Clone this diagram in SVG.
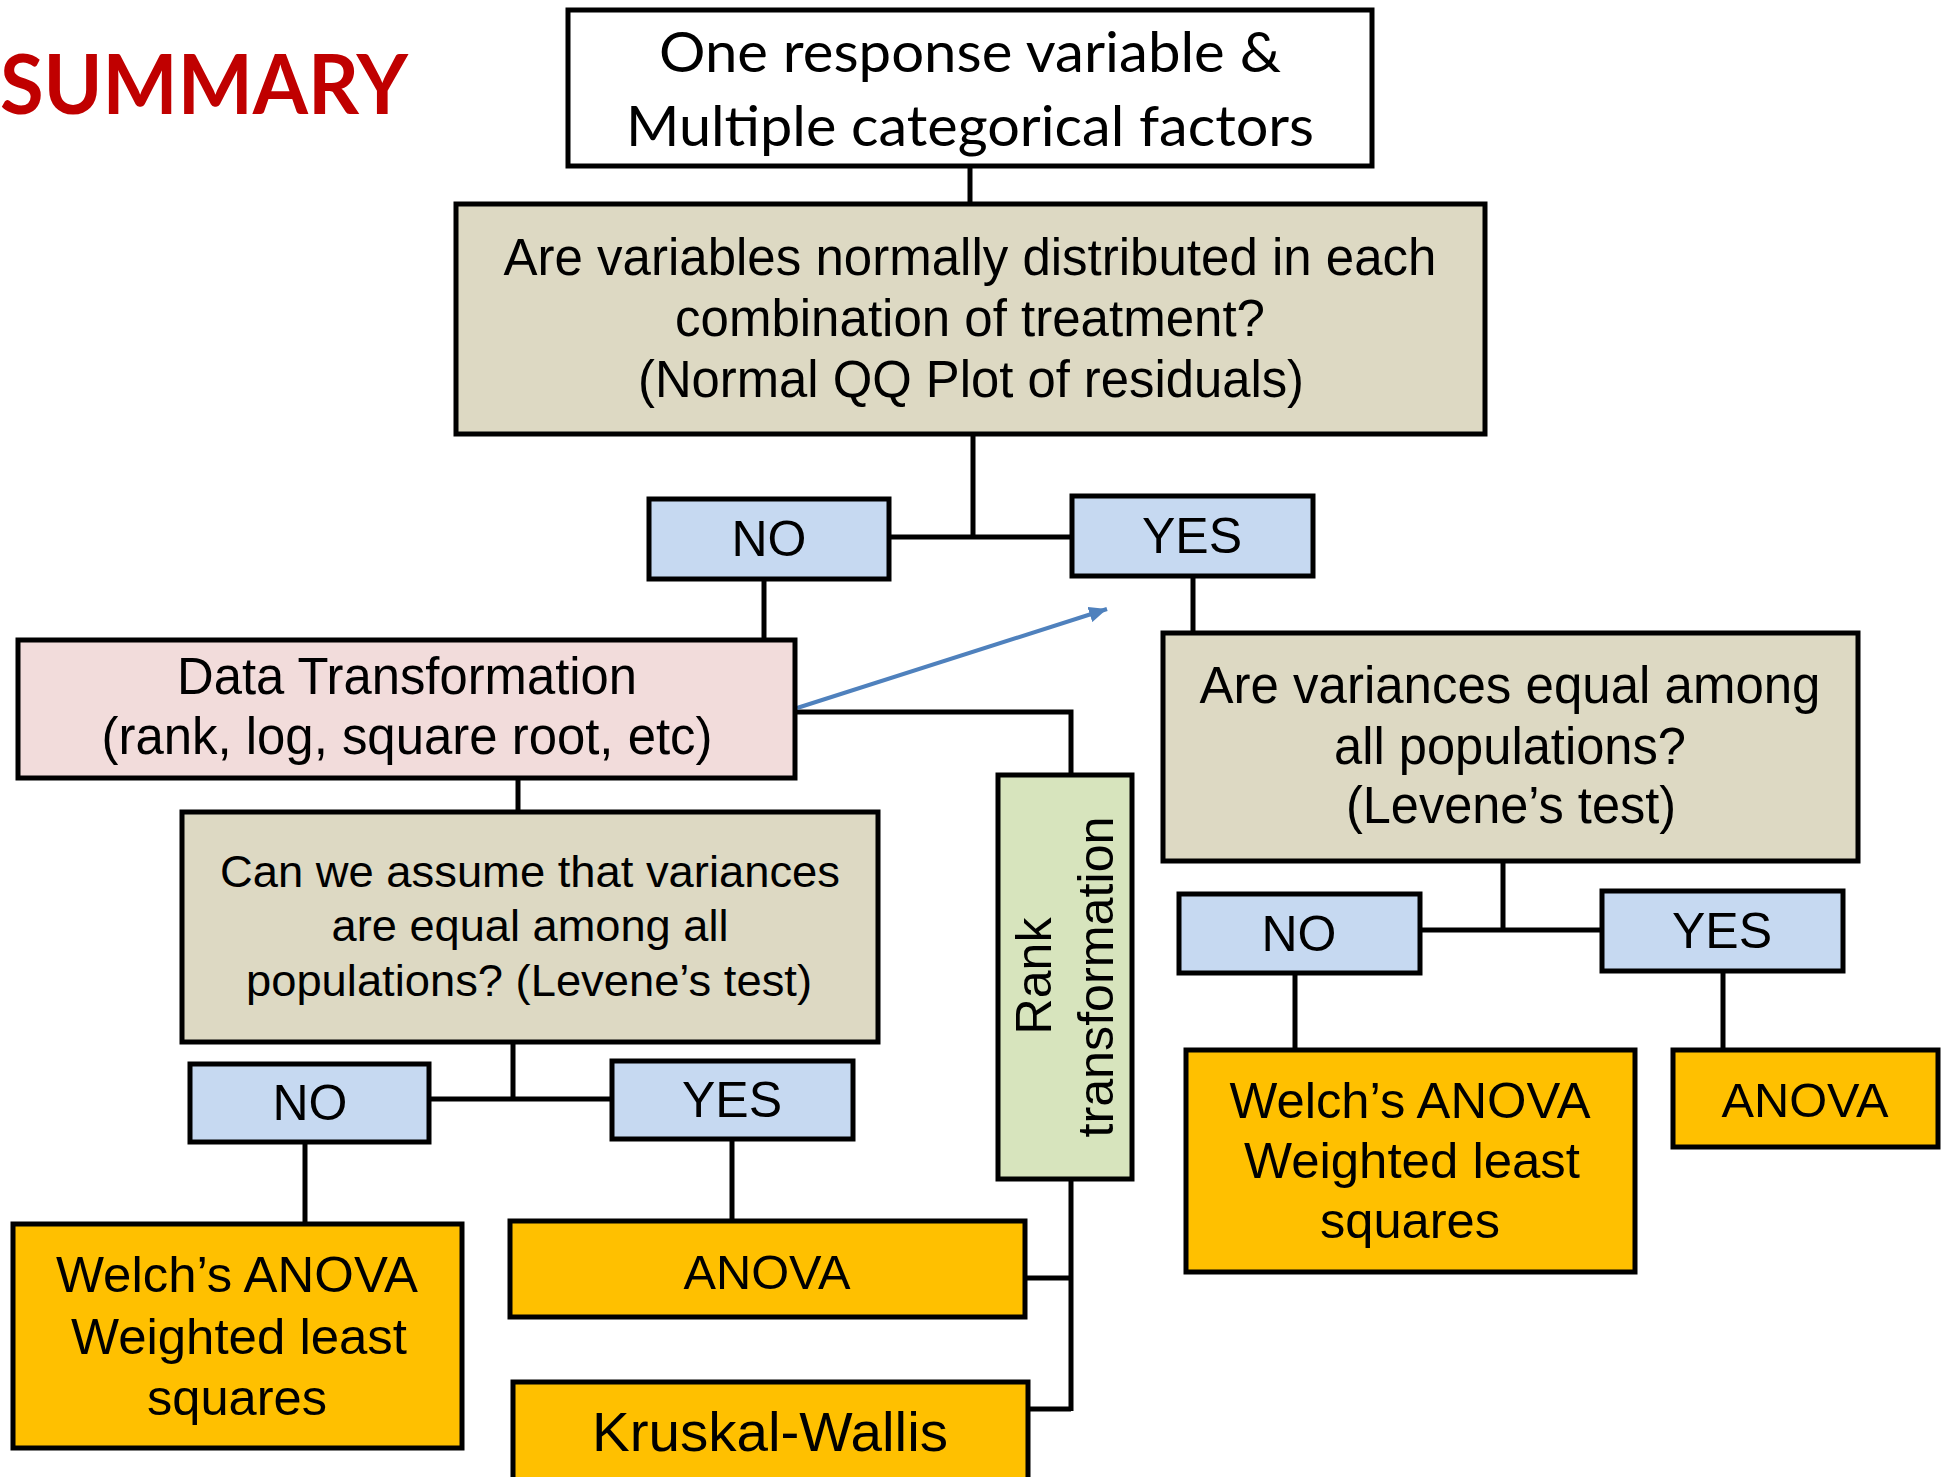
<svg xmlns="http://www.w3.org/2000/svg" width="1950" height="1477" viewBox="0 0 1950 1477">
<style>
.box{stroke:#000;stroke-width:5;stroke-linejoin:miter}
.white{fill:#fff}
.gray{fill:#DDD9C3}
.blue{fill:#C6D9F1}
.pink{fill:#F2DCDB}
.green{fill:#D7E4BD}
.orange{fill:#FFC000}
.t{font-family:"Liberation Sans",Arial,sans-serif;fill:#000;text-anchor:middle}
.c{font-family:Lato,"Liberation Sans",sans-serif;fill:#000;text-anchor:middle}
.conn{fill:none;stroke:#000;stroke-width:5}
</style>
<defs>
<marker id="ah" markerUnits="userSpaceOnUse" markerWidth="20" markerHeight="16" refX="18" refY="8" orient="auto">
<path d="M0,0 L18,8 L0,16 Z" fill="#4F81BD"/>
</marker>
</defs>
<rect width="1950" height="1477" fill="#fff"/>
<text x="0" y="114" font-family="Lato,'Liberation Sans',sans-serif" font-weight="bold" font-size="82" fill="#C00000" textLength="408" lengthAdjust="spacingAndGlyphs">SUMMARY</text>

<g id="connectors">
<path class="conn" d="M970 168 V202"/>
<path class="conn" d="M973 436 V537 M891 537 H1070"/>
<path class="conn" d="M764 581 V638"/>
<path class="conn" d="M1193 578 V631"/>
<path class="conn" d="M797 712 H1071 V773"/>
<path class="conn" d="M518 780 V810"/>
<path class="conn" d="M513 1044 V1099 M431 1099 H610"/>
<path class="conn" d="M305 1144 V1222"/>
<path class="conn" d="M732 1141 V1219"/>
<path class="conn" d="M1071 1181 V1411 M1027 1278 H1071 M1030 1409 H1071"/>
<path class="conn" d="M1503 863 V930 M1422 930 H1600"/>
<path class="conn" d="M1295 975 V1048"/>
<path class="conn" d="M1723 973 V1048"/>
<line x1="797" y1="708" x2="1107" y2="609" stroke="#4F81BD" stroke-width="4" marker-end="url(#ah)"/>
</g>

<g id="start">
<rect class="box white" x="568" y="10" width="804" height="156"/>
<text class="c" x="970" y="72" font-size="56" textLength="622" lengthAdjust="spacingAndGlyphs">One response variable &amp;</text>
<text class="c" x="970" y="146" font-size="56" textLength="688" lengthAdjust="spacingAndGlyphs">Multiple categorical factors</text>
</g>

<g id="q-normal">
<rect class="box gray" x="456" y="204" width="1029" height="230"/>
<text class="t" x="970" y="275" font-size="51" textLength="933" lengthAdjust="spacingAndGlyphs">Are variables normally distributed in each</text>
<text class="t" x="970" y="336" font-size="51" textLength="590" lengthAdjust="spacingAndGlyphs">combination of treatment?</text>
<text class="t" x="971" y="397" font-size="51" textLength="666" lengthAdjust="spacingAndGlyphs">(Normal QQ Plot of residuals)</text>
</g>

<g id="no1">
<rect class="box blue" x="649" y="499" width="240" height="80"/>
<text class="t" x="769" y="556" font-size="50">NO</text>
</g>
<g id="yes1">
<rect class="box blue" x="1072" y="496" width="241" height="80"/>
<text class="t" x="1192" y="553" font-size="50">YES</text>
</g>

<g id="transform">
<rect class="box pink" x="18" y="640" width="777" height="138"/>
<text class="t" x="407" y="694" font-size="51" textLength="460" lengthAdjust="spacingAndGlyphs">Data Transformation</text>
<text class="t" x="407" y="754" font-size="51" textLength="611" lengthAdjust="spacingAndGlyphs">(rank, log, square root, etc)</text>
</g>

<g id="rank">
<rect class="box green" x="998" y="775" width="134" height="404"/>
<text class="t" font-size="50" transform="translate(1051,976) rotate(-90)" textLength="117" lengthAdjust="spacingAndGlyphs">Rank</text>
<text class="t" font-size="50" transform="translate(1113,977) rotate(-90)" textLength="321" lengthAdjust="spacingAndGlyphs">transformation</text>
</g>

<g id="q-var-left">
<rect class="box gray" x="182" y="812" width="696" height="230"/>
<text class="t" x="530" y="887" font-size="45" textLength="620" lengthAdjust="spacingAndGlyphs">Can we assume that variances</text>
<text class="t" x="530" y="941" font-size="45" textLength="397" lengthAdjust="spacingAndGlyphs">are equal among all</text>
<text class="t" x="529" y="996" font-size="45" textLength="566" lengthAdjust="spacingAndGlyphs">populations? (Levene’s test)</text>
</g>

<g id="no2">
<rect class="box blue" x="190" y="1064" width="239" height="78"/>
<text class="t" x="310" y="1120" font-size="50">NO</text>
</g>
<g id="yes2">
<rect class="box blue" x="612" y="1061" width="241" height="78"/>
<text class="t" x="732" y="1117" font-size="50">YES</text>
</g>

<g id="welch-left">
<rect class="box orange" x="13" y="1224" width="449" height="224"/>
<text class="t" x="237" y="1292" font-size="50" textLength="362" lengthAdjust="spacingAndGlyphs">Welch’s ANOVA</text>
<text class="t" x="239" y="1354" font-size="50" textLength="336" lengthAdjust="spacingAndGlyphs">Weighted least</text>
<text class="t" x="237" y="1415" font-size="50" textLength="180" lengthAdjust="spacingAndGlyphs">squares</text>
</g>

<g id="anova-left">
<rect class="box orange" x="510" y="1221" width="515" height="96"/>
<text class="t" x="767" y="1289" font-size="48" textLength="167" lengthAdjust="spacingAndGlyphs">ANOVA</text>
</g>

<g id="kruskal">
<rect class="box orange" x="513" y="1382" width="515" height="130"/>
<text class="t" x="770" y="1451" font-size="56" textLength="356" lengthAdjust="spacingAndGlyphs">Kruskal-Wallis</text>
</g>

<g id="q-var-right">
<rect class="box gray" x="1163" y="633" width="695" height="228"/>
<text class="t" x="1510" y="703" font-size="51" textLength="621" lengthAdjust="spacingAndGlyphs">Are variances equal among</text>
<text class="t" x="1510" y="764" font-size="51" textLength="352" lengthAdjust="spacingAndGlyphs">all populations?</text>
<text class="t" x="1511" y="823" font-size="51" textLength="330" lengthAdjust="spacingAndGlyphs">(Levene’s test)</text>
</g>

<g id="no3">
<rect class="box blue" x="1179" y="894" width="241" height="79"/>
<text class="t" x="1299" y="951" font-size="50">NO</text>
</g>
<g id="yes3">
<rect class="box blue" x="1602" y="891" width="241" height="80"/>
<text class="t" x="1722" y="948" font-size="50">YES</text>
</g>

<g id="welch-right">
<rect class="box orange" x="1186" y="1050" width="449" height="222"/>
<text class="t" x="1410" y="1118" font-size="50" textLength="361" lengthAdjust="spacingAndGlyphs">Welch’s ANOVA</text>
<text class="t" x="1412" y="1178" font-size="50" textLength="336" lengthAdjust="spacingAndGlyphs">Weighted least</text>
<text class="t" x="1410" y="1238" font-size="50" textLength="180" lengthAdjust="spacingAndGlyphs">squares</text>
</g>

<g id="anova-right">
<rect class="box orange" x="1673" y="1050" width="265" height="97"/>
<text class="t" x="1805" y="1117" font-size="48" textLength="167" lengthAdjust="spacingAndGlyphs">ANOVA</text>
</g>
</svg>
